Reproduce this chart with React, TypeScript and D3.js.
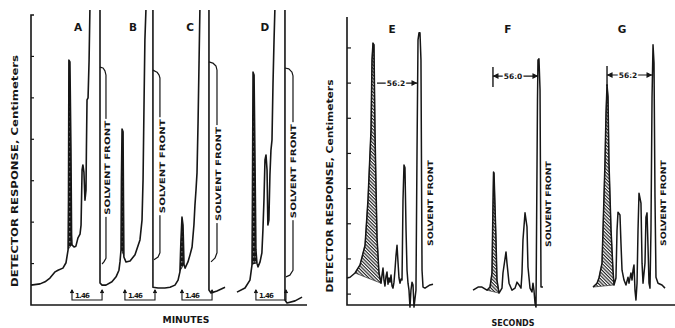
import { useEffect, useRef } from 'react';
import * as d3 from 'd3';

const width = 675;
const height = 328;
const font = '"DejaVu Sans", "Liberation Sans", sans-serif';

// ---- left panel: minutes / detector response (cm) ----
const leftTicks = [1, 2, 3, 4, 5, 6];

const traceA = [
    [0, 0.48], [0.44, 0.51], [0.68, 0.56], [0.92, 0.65], [1.17, 0.8], [1.31, 0.84], [1.55, 0.89], [1.7, 1.02],
    [1.8, 1.33], [1.82, 2.53], [1.84, 5.91], [1.89, 5.87], [1.94, 3.74], [1.97, 1.69], [1.99, 1.45], [2.09, 1.4],
    [2.18, 1.42], [2.28, 1.62], [2.38, 1.71], [2.43, 1.93], [2.48, 3.26], [2.52, 3.38], [2.57, 3.21], [2.62, 2.53],
    [2.67, 2.77], [2.69, 3.74], [2.72, 4.95], [2.77, 5.0], [2.82, 5.91], [2.86, 7.12],
];
const traceB = [
    [3.35, 7.12], [3.35, 0.53], [3.45, 0.48], [3.64, 0.48], [3.93, 0.56], [4.13, 0.68], [4.27, 0.84], [4.32, 1.04],
    [4.37, 1.33], [4.39, 3.02], [4.42, 4.25], [4.47, 4.18], [4.49, 2.53], [4.51, 1.16], [4.61, 1.04], [4.81, 1.06],
    [5.05, 1.21], [5.29, 1.57], [5.39, 2.05], [5.44, 3.02], [5.49, 4.95], [5.53, 6.4], [5.58, 7.12],
];
const traceC = [
    [5.92, 7.12], [5.92, 0.43], [6.17, 0.41], [6.5, 0.41], [6.75, 0.43], [6.99, 0.48], [7.14, 0.6], [7.23, 0.8],
    [7.28, 1.57], [7.33, 2.12], [7.38, 1.93], [7.43, 0.97], [7.48, 0.89], [7.62, 1.04], [7.72, 1.21], [7.82, 1.4],
    [7.91, 1.93], [7.96, 2.41], [8.01, 2.77], [8.06, 3.19], [8.11, 4.39], [8.16, 5.91], [8.2, 7.12],
];
const frontC = [[8.64, 7.12], [8.64, 0.36], [8.74, 0.29], [9.03, 0.34], [9.42, 0.43]];
const traceD = [
    [10.0, 0.31], [10.39, 0.41], [10.63, 0.6], [10.73, 0.97], [10.75, 2.53], [10.78, 5.62], [10.83, 5.55],
    [10.87, 3.74], [10.92, 1.33], [10.97, 1.01], [11.02, 0.92], [11.12, 1.04], [11.21, 1.26], [11.26, 1.81],
    [11.31, 2.53], [11.36, 3.5], [11.41, 3.62], [11.46, 3.26], [11.5, 1.93], [11.55, 2.05], [11.6, 3.14],
    [11.65, 3.74], [11.7, 3.98], [11.75, 5.36], [11.8, 6.4], [11.84, 7.12],
];
const frontD = [[12.33, 7.12], [12.33, 0.12], [12.43, 0.05], [12.82, 0.1], [13.16, 0.19]];

// recorder pen returns after each solvent front
const penA = [[3.35, 5.74], [3.5, 5.72], [3.59, 5.65], [3.64, 5.55], [3.64, 1.13], [3.54, 1.04], [3.45, 0.99]];
const penB = [[5.92, 5.67], [6.12, 5.62], [6.22, 5.55], [6.26, 5.48], [6.26, 1.26], [6.17, 1.16], [5.97, 1.09]];
const penC = [[8.64, 5.87], [8.83, 5.84], [8.98, 5.77], [9.03, 5.67], [9.03, 1.26], [8.93, 1.13], [8.74, 1.04]];
const penD = [[12.33, 5.72], [12.52, 5.7], [12.67, 5.62], [12.72, 5.53], [12.72, 0.84], [12.57, 0.72], [12.38, 0.68]];

const leftShade = [[1.8, 1.99], [4.37, 4.51], [7.23, 7.43], [10.73, 10.97]];
const leftLetters = ['A', 'B', 'C', 'D'];
const leftLetterT = [2.28, 4.95, 7.72, 11.36];
const leftFrontT = [3.69, 6.36, 9.08, 12.72];
const leftFrontV = [3.31, 3.35, 3.16, 3.23];
const bracketStart = [1.99, 4.56, 7.33, 10.92];
const bracketWidth = 1.46;

// ---- right panel: seconds ----
const rightTicks = [0, 1, 2, 3, 4, 5, 6, 7];

const traceE = [
    [0, 0.46], [3.7, 0.48], [9.8, 0.6], [15.9, 0.83], [22.0, 1.39], [25.6, 2.68], [29.3, 4.67], [30.5, 6.66],
    [31.7, 7.14], [32.9, 7.09], [34.1, 4.67], [35.4, 3.04], [36.6, 1.62], [39.0, 0.6], [41.5, 0.31], [42.7, 0.54],
    [43.9, 0.74], [45.1, 0.4], [46.3, 0.23], [47.6, 0.51], [48.8, 0.63], [50.0, 0.28], [51.2, 0.46], [52.4, 0.34],
    [53.7, 0.54], [54.9, 0.23], [56.1, 0.17], [57.3, 0.34], [58.5, 0.68], [59.8, 1.11], [61.0, 1.39], [62.2, 0.91],
    [63.4, 0.46], [64.6, 0.31], [65.9, 0.43], [67.1, 0.4], [68.3, 2.68], [69.5, 3.67], [70.7, 3.59], [72.0, 1.82],
    [73.2, 0.68], [74.4, 0.31], [75.6, 0.11], [76.8, -0.37], [78.0, 0.11], [79.3, 0.34], [80.5, 0.26], [81.7, -0.37],
    [84.1, 0.11], [85.4, 4.1], [86.6, 7.23], [87.8, 7.43], [89.0, 7.43], [90.2, 6.66], [91.5, 0.68], [92.7, 0.2],
    [95.1, 0.17], [101.2, 0.26], [104.9, 0.28],
];
const traceF = [
    [153.7, 0.11], [159.8, 0.2], [164.6, 0.2], [170.7, 0.11], [174.4, 0.2], [176.8, 0.6], [178.0, 2.48],
    [178.7, 3.47], [179.3, 3.44], [181.7, 1.54], [182.9, 0.4], [185.4, 0.03], [189.0, 0.17], [190.2, 0.6],
    [193.9, 1.2], [195.1, 0.88], [197.6, 0.31], [201.2, 0.11], [204.9, 0.17], [207.3, 0.34], [209.8, 0.26],
    [212.2, 0.17], [213.4, 0.6], [214.6, 1.54], [217.1, 2.31], [219.5, 1.91], [220.7, 0.77], [223.2, 0.17],
    [225.6, 0.06], [226.8, 0.31], [228.0, 0.11], [229.3, -0.26], [230.5, -0.37], [232.3, 5.52], [232.9, 6.66],
    [234.1, 6.69], [235.4, 5.81], [236.6, 0.2], [239.0, 0.2],
];
const traceG = [
    [300.0, 0.2], [304.9, 0.31], [307.3, 0.46], [311.0, 0.88], [312.2, 1.82], [314.6, 3.73], [315.9, 5.15],
    [317.1, 5.95], [318.3, 5.61], [319.5, 3.73], [322.0, 1.82], [324.4, 0.68], [325.6, 0.26], [328.0, 0.46],
    [329.3, 1.82], [330.5, 2.33], [332.9, 2.25], [334.1, 1.45], [335.4, 0.68], [337.8, 0.4], [340.2, 0.26],
    [342.7, 0.48], [343.9, 0.31], [346.3, 0.6], [347.6, 0.4], [348.8, 0.68], [350.0, 0.83], [351.2, 0.11],
    [352.4, -0.17], [353.7, 0.31], [354.9, 1.82], [356.1, 2.87], [358.5, 2.59], [359.8, 0.88], [361.0, 0.31],
    [363.4, 0.88], [364.6, 2.19], [365.9, 2.31], [367.1, 1.34], [368.3, 0.31], [369.5, 0.17], [370.7, 1.82],
    [372.0, 5.61], [373.2, 7.09], [374.4, 6.57], [375.6, 2.76], [376.8, 0.48], [379.3, 0.31], [384.1, 0.26],
    [387.8, 0.17],
];

const rightShade = [[9.8, 41.5], [170.7, 185.4], [300.0, 325.6]];
const rightLetters = ['E', 'F', 'G'];
const rightLetterT = [54.9, 196.3, 335.4];
const rightFrontT = [101.2, 245.1, 385.4];
const rightFrontV = [2.59, 2.56, 2.59];
const dimStart = [36.6, 178.0, 317.1];
const dimEnd = [85.4, 232.9, 372.0];
const dimV = [6.0, 6.2, 6.23];
const dimText = ['56.2', '56.0', '56.2'];
const dimTextT = [59.8, 202.4, 342.7];
const dimBar = [false, true, true];

export default function App() {
    const chart = useRef<SVGSVGElement>(null);

    useEffect(() => {
        const svg = d3.select(chart.current);
        svg.selectAll('*').remove();

        const xL = d3.scaleLinear().domain([0, 13.4]).range([31, 307]);
        const yL = d3.scaleLinear().domain([0, 7]).range([305, 15]);
        const xR = d3.scaleLinear().domain([0, 400]).range([347, 675]);
        const yR = d3.scaleLinear().domain([-0.31, 7.88]).range([305, 17]);

        const ink = '#161616';

        // patterns
        const defs = svg.append('defs');
        const hatch = defs
            .append('pattern')
            .attr('id', 'hatch')
            .attr('patternUnits', 'userSpaceOnUse')
            .attr('width', 2.4)
            .attr('height', 2.4)
            .attr('patternTransform', 'rotate(45)');
        hatch.append('rect').attr('width', 2.4).attr('height', 2.4).attr('fill', '#fff');
        hatch.append('path').attr('d', 'M0,0.6H2.4').attr('stroke', ink).attr('stroke-width', 1.1);

        const dots = defs
            .append('pattern')
            .attr('id', 'dots')
            .attr('patternUnits', 'userSpaceOnUse')
            .attr('width', 2)
            .attr('height', 5);
        dots.append('rect').attr('width', 2).attr('height', 5).attr('fill', ink);
        dots.append('rect').attr('x', 0.8).attr('y', 1).attr('width', 0.7).attr('height', 1.6).attr('fill', '#ddd');

        const makeLine = (x, y) => d3.line().x((d) => x(d[0])).y((d) => y(d[1]));
        const lineL = makeLine(xL, yL);
        const lineR = makeLine(xR, yR);

        // ----- axes -----
        const axes = svg.append('g').attr('stroke', ink).attr('fill', 'none');
        axes.append('path').attr('d', `M${xL(0) + 3},${yL(7)}H${xL(0)}V${yL(0)}H${xL(13.4)}`).attr('stroke-width', 1.6);
        axes.selectAll('.tl')
            .data(leftTicks)
            .join('line')
            .attr('x1', xL(0))
            .attr('x2', xL(0) + 3)
            .attr('y1', (d) => yL(d))
            .attr('y2', (d) => yL(d))
            .attr('stroke-width', 1.2);
        axes.append('path').attr('d', `M${xR(0)},${yR(7.88)}V${yR(-0.31)}H${xR(400)}`).attr('stroke-width', 1.6);
        axes.selectAll('.tr')
            .data(rightTicks)
            .join('line')
            .attr('x1', xR(0))
            .attr('x2', xR(0) + 4)
            .attr('y1', (d) => yR(d))
            .attr('y2', (d) => yR(d))
            .attr('stroke-width', 1.2);

        // ----- shaded peaks -----
        const shadePoly = (trace, [a, b], line) =>
            line(trace.filter((p) => p[0] >= a && p[0] <= b)) + 'Z';
        const leftTraces = [traceA, traceB, traceC, traceD];
        leftShade.forEach((r, i) => {
            svg.append('path').attr('d', shadePoly(leftTraces[i], r, lineL)).attr('fill', 'url(#dots)');
        });
        const rightTraces = [traceE, traceF, traceG];
        rightShade.forEach((r, i) => {
            svg.append('path').attr('d', shadePoly(rightTraces[i], r, lineR)).attr('fill', 'url(#hatch)')
                .attr('stroke', ink).attr('stroke-width', 0.6);
        });

        // ----- traces -----
        const traces = svg.append('g').attr('fill', 'none').attr('stroke', ink).attr('stroke-linejoin', 'round');
        [traceA, traceB, traceC, frontC, traceD, frontD].forEach((t) => {
            traces.append('path').attr('d', lineL(t)).attr('stroke-width', 1.6);
        });
        [penA, penB, penC, penD].forEach((t) => {
            traces.append('path').attr('d', lineL(t)).attr('stroke-width', 1.2);
        });
        rightTraces.forEach((t) => {
            traces.append('path').attr('d', lineR(t)).attr('stroke-width', 1.5);
        });

        // ----- 1.46 brackets -----
        const br = svg.append('g').attr('stroke', ink).attr('fill', 'none').attr('stroke-width', 1.1);
        bracketStart.forEach((s) => {
            const x0 = xL(s);
            const x1 = xL(s + bracketWidth);
            const yb = yL(0.12);
            const yt = yL(0.36);
            br.append('path').attr('d', `M${x0},${yt}V${yb}H${x1}V${yt}`);
            [x0, x1].forEach((xx) => {
                br.append('path').attr('d', `M${xx - 1.6},${yt + 3}L${xx},${yt}L${xx + 1.6},${yt + 3}`).attr('fill', ink);
            });
            svg.append('text')
                .attr('x', x0 + 3)
                .attr('y', yL(0.17))
                .attr('font-family', font)
                .attr('font-weight', 'bold')
                .attr('font-size', 7)
                .attr('textLength', 15)
                .attr('fill', ink)
                .text('1.46');
        });

        // ----- dimension arrows on right -----
        dimStart.forEach((s, i) => {
            const g = svg.append('g').attr('stroke', ink).attr('fill', ink).attr('stroke-width', 1.1);
            const yy = yR(dimV[i]);
            const x0 = xR(s);
            const x1 = xR(dimEnd[i]);
            g.append('line').attr('x1', x0).attr('x2', x1).attr('y1', yy).attr('y2', yy);
            if (dimBar[i]) {
                g.append('line').attr('x1', x0).attr('x2', x0).attr('y1', yy - 9).attr('y2', yy + 11).attr('stroke-width', 1.4);
                g.append('path').attr('d', `M${x0 + 5},${yy - 2}L${x0 + 1},${yy}L${x0 + 5},${yy + 2}Z`);
            }
            g.append('path').attr('d', `M${x1 - 5},${yy - 2}L${x1 - 1},${yy}L${x1 - 5},${yy + 2}Z`);
            svg.append('text')
                .attr('x', xR(dimTextT[i]))
                .attr('y', yy)
                .attr('dy', '0.35em')
                .attr('text-anchor', 'middle')
                .attr('font-family', font)
                .attr('font-weight', 'bold')
                .attr('font-size', 7.5)
                .attr('fill', ink)
                .attr('stroke', '#fff')
                .attr('stroke-width', 3)
                .attr('paint-order', 'stroke')
                .text(dimText[i]);
        });

        // ----- text labels -----
        const label = (xx, yy, txt, size, rot, len) => {
            const t = svg.append('text')
                .attr('transform', `translate(${xx},${yy}) rotate(${rot})`)
                .attr('text-anchor', 'middle')
                .attr('dy', '0.35em')
                .attr('font-family', font)
                .attr('font-weight', 'bold')
                .attr('font-size', size)
                .attr('fill', ink)
                .text(txt);
            if (len) t.attr('textLength', len).attr('lengthAdjust', 'spacingAndGlyphs');
            return t;
        };

        leftLetters.forEach((l, i) => label(xL(leftLetterT[i]), yL(6.71), l, 10.5, 0, null));
        rightLetters.forEach((l, i) => label(xR(rightLetterT[i]), yR(7.54), l, 10.5, 0, null));

        // solvent front labels sit over the pen-return line, so clear a strip behind them
        const frontLabel = (xx, yy, len) => {
            svg.append('rect')
                .attr('x', xx - 4.5)
                .attr('y', yy - len / 2 - 2)
                .attr('width', 9)
                .attr('height', len + 4)
                .attr('fill', '#fff');
            label(xx, yy, 'SOLVENT  FRONT', 7.5, -90, len);
        };
        leftFrontT.forEach((t, i) => frontLabel(xL(t), yL(leftFrontV[i]), 94));
        rightFrontT.forEach((t, i) => frontLabel(xR(t), yR(rightFrontV[i]), 86));

        label(15, 171, 'DETECTOR  RESPONSE,  Centimeters', 8.5, -90, 232);
        label(330, 186, 'DETECTOR  RESPONSE,  Centimeters', 8.5, -90, 213);
        label(186, 320, 'MINUTES', 9, 0, 47);
        label(513, 323, 'SECONDS', 9, 0, 43);
    }, []);

    return (
        <svg
            ref={chart}
            width={width}
            height={height}
            style={{ position: 'absolute', left: 0, top: 0, background: '#fff', display: 'block' }}
        />
    );
}
